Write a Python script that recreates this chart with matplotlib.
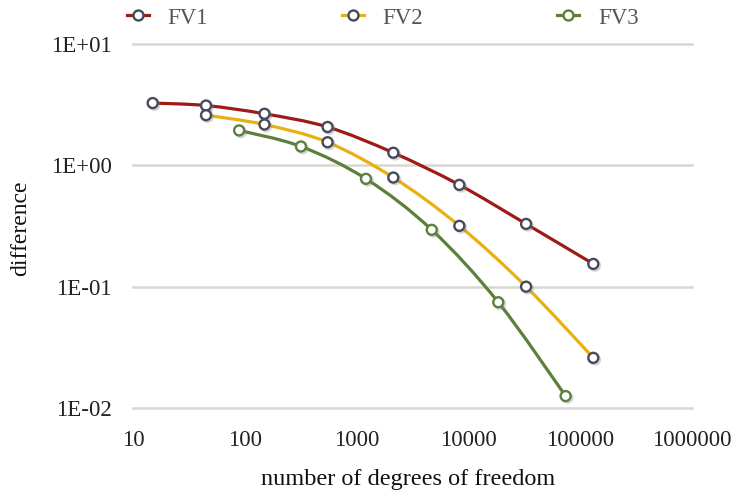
import numpy as np
import matplotlib
matplotlib.use("Agg")
import matplotlib.pyplot as plt
from matplotlib.path import Path
from matplotlib.patches import PathPatch
from matplotlib.ticker import NullLocator
import matplotlib.patheffects as pe

# --- data -------------------------------------------------------------
series_names = ["FV1", "FV2", "FV3"]

fv1_dofs = [15, 45, 150, 550, 2130, 8300, 32800, 131000]
fv1_diff = [3.26, 3.11, 2.66, 2.07, 1.27, 0.690, 0.329, 0.154]

fv2_dofs = [45, 150, 550, 2130, 8300, 32800, 131000]
fv2_diff = [2.59, 2.17, 1.55, 0.793, 0.317, 0.100, 0.0259]

fv3_dofs = [89, 318, 1213, 4700, 18500, 74100]
fv3_diff = [1.94, 1.43, 0.774, 0.294, 0.0744, 0.01254]

x_ticks = [10, 100, 1000, 10000, 100000, 1000000]
x_tick_labels = ["10", "100", "1000", "10000", "100000", "1000000"]
y_ticks = [0.01, 0.1, 1, 10]
y_tick_labels = ["1E-02", "1E-01", "1E+00", "1E+01"]

# --- style ------------------------------------------------------------
line_colors = ["#9e1a17", "#e8b010", "#5c7f3b"]
marker_edges = ["#464a5c", "#464a5c", "#5c7f3b"]
serif = ["Liberation Serif", "DejaVu Serif"]
plt.rcParams["font.family"] = serif

fig = plt.figure(figsize=(7.34, 4.95), dpi=100)
ax = fig.add_axes([133 / 734, 1 - 408 / 495, 559 / 734, 364 / 495])
ax.set_xscale("log")
ax.set_yscale("log")
ax.set_xlim(10, 1e6)
ax.set_ylim(0.01, 10)


def smooth_path(xs, ys):
    """Cubic Bezier path through the points, built in log-log space."""
    lx = np.log10(np.asarray(xs, float))
    ly = np.log10(np.asarray(ys, float))
    pts = np.column_stack([lx, ly])
    n = len(pts)
    verts = [pts[0]]
    codes = [Path.MOVETO]
    for i in range(n - 1):
        p0 = pts[i - 1] if i > 0 else pts[i]
        p1 = pts[i]
        p2 = pts[i + 1]
        p3 = pts[i + 2] if i + 2 < n else pts[i + 1]
        c1 = p1 + (p2 - p0) / 6.0
        c2 = p2 - (p3 - p1) / 6.0
        verts += [c1, c2, p2]
        codes += [Path.CURVE4] * 3
    verts = 10 ** np.array(verts)
    return Path(verts, codes)


shadow = [pe.SimpleLineShadow(offset=(1.2, -1.2), shadow_color="#888888", alpha=0.35),
          pe.Normal()]

all_series = [(fv1_dofs, fv1_diff), (fv2_dofs, fv2_diff), (fv3_dofs, fv3_diff)]
handles = []
for (xs, ys), name, lc, mc in zip(all_series, series_names, line_colors, marker_edges):
    patch = PathPatch(smooth_path(xs, ys), facecolor="none", edgecolor=lc,
                      lw=2.3, zorder=3, capstyle="round", joinstyle="round")
    ax.add_patch(patch)
    ax.plot(xs, ys, linestyle="none", marker="o", markersize=7.2,
            markerfacecolor="white", markeredgecolor=mc, markeredgewidth=1.7,
            zorder=4, path_effects=shadow)
    h, = ax.plot([], [], color=lc, lw=2.3, marker="o", markersize=7.2,
                 markerfacecolor="white", markeredgecolor=mc, markeredgewidth=1.7)
    handles.append(h)

# --- axes -------------------------------------------------------------
for s in ax.spines.values():
    s.set_visible(False)

ax.set_xticks(x_ticks)
ax.set_xticklabels(x_tick_labels)
ax.set_yticks(y_ticks)
ax.set_yticklabels(y_tick_labels)
ax.xaxis.set_minor_locator(NullLocator())
ax.yaxis.set_minor_locator(NullLocator())
ax.tick_params(axis="both", length=0, labelsize=16.5, colors="#222222")
ax.tick_params(axis="x", pad=16)
ax.tick_params(axis="y", pad=15)

ax.yaxis.grid(True, color="#d9d7d0", lw=1.8)
ax.xaxis.grid(False)
for gl in ax.get_ygridlines():
    gl.set_clip_on(False)
ax.set_axisbelow(True)

ax.set_xlabel("number of degrees of freedom", fontsize=17.5, color="#111111")
ax.xaxis.label.set_va("baseline")
ax.xaxis.set_label_coords(0.492, (408 - 485) / 364)
ax.set_ylabel("difference", fontsize=17, color="#111111")
ax.yaxis.label.set_va("center")
ax.yaxis.set_label_coords((21 - 133) / 559, (408 - 228) / 364)

leg = fig.legend(handles, series_names, loc="center left",
                 bbox_to_anchor=(127 / 734, 1 - 18 / 495), ncol=3, frameon=False,
                 fontsize=16.5, handlelength=0.95, handletextpad=0.82,
                 columnspacing=5.85, borderpad=0, borderaxespad=0)
for t in leg.get_texts():
    t.set_color("#555555")

fig.savefig("out.png", dpi=100)
